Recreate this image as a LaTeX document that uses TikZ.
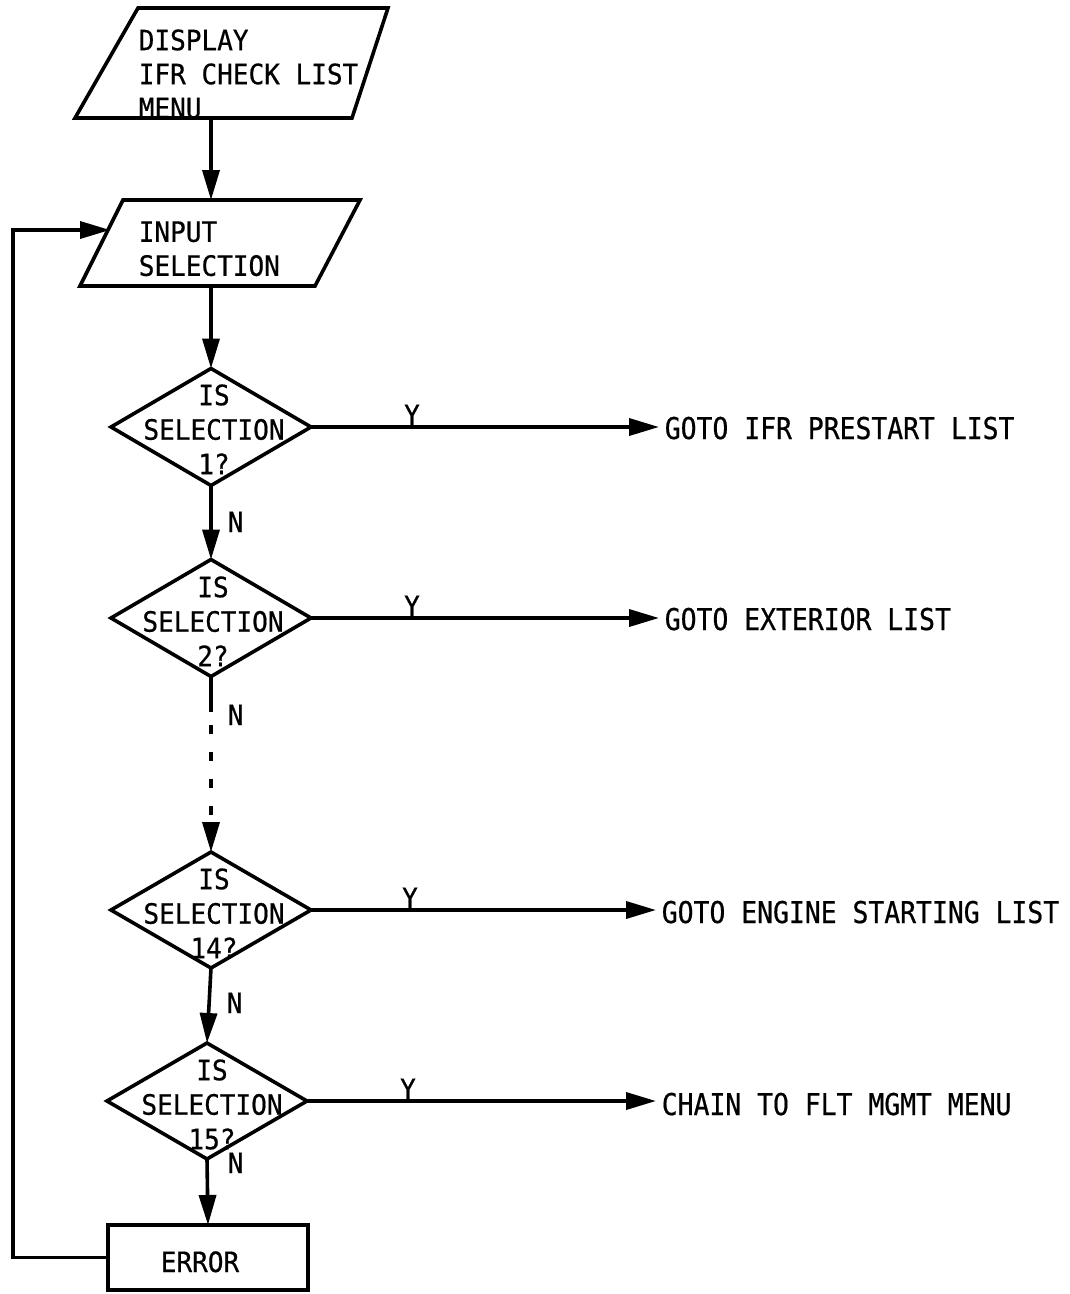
\documentclass[tikz,border=0pt]{standalone}
\usepackage{fontspec}
\usetikzlibrary{shapes.geometric,arrows.meta}
\newfontfamily\flowfont[FakeStretch=0.93,FakeBold=0.6]{DejaVu Sans Mono}
\newfontfamily\flowwide[FakeStretch=0.88,FakeBold=0.6]{DejaVu Sans Mono}
\begin{document}
\begin{tikzpicture}[x=1pt,y=-1pt,
  line width=3.6pt,
  flow/.style={line width=3.6pt,-{Triangle[length=30pt,width=17pt]}},
  boxtext/.style={font=\flowfont\fontsize{28}{34}\selectfont,inner sep=0pt,align=left,anchor=north west},
  dectext/.style={font=\flowfont\fontsize{28}{34.5}\selectfont,inner sep=0pt,align=center,anchor=north},
  decision/.style={draw,diamond,inner sep=0pt,outer sep=0pt,minimum width=200pt,minimum height=117pt},
  branch/.style={font=\flowwide\fontsize{30}{34}\selectfont,anchor=base west,inner sep=4pt},
  yn/.style={font=\flowfont\fontsize{28}{30}\selectfont,inner sep=0pt}]
\useasboundingbox (0,0) rectangle (1069,1294);

% input/output boxes
\draw (138,8) -- (388,8) -- (352,118) -- (75,118) -- cycle;
\node[boxtext] (show) at (137,27.6) {DISPLAY\\IFR CHECK LIST\\MENU};
\coordinate (p1s) at (211,118);

\draw (123,200) -- (360,200) -- (315,286) -- (80,286) -- cycle;
\node[boxtext] (inp) at (137,219.6) {INPUT\\SELECTION};
\coordinate (p2n) at (211,200);
\coordinate (p2s) at (211,286);
\coordinate (in) at (110,230);

% decisions
\node[decision] (d1) at (211,427) {};
\node[dectext] (t1) at (214,382.6) {IS\\SELECTION\\1?};
\node[decision] (d2) at (211,618) {};
\node[dectext] (t2) at (213,574.6) {IS\\SELECTION\\2?};
\node[decision,minimum height=116pt] (d3) at (211,910) {};
\node[dectext] (t3) at (214,866.6) {IS\\SELECTION\\14?};
\node[decision,minimum height=116pt] (d4) at (207,1101) {};
\node[dectext] (t4) at (212,1057.6) {IS\\SELECTION\\15?};

% error box
\node[draw,minimum width=200pt,minimum height=65pt,inner sep=0pt,outer sep=0pt] (err) at (208,1257.5) {};
\node[font=\flowfont\fontsize{28}{34}\selectfont,anchor=base,inner sep=0pt] (errt) at (200,1272) {ERROR};

% branch targets
\node[branch] (g1) at (659,439) {GOTO IFR PRESTART LIST};
\node[branch] (g2) at (659,630) {GOTO EXTERIOR LIST};
\node[branch] (g3) at (656,923) {GOTO ENGINE STARTING LIST};
\node[branch] (g4) at (656,1115) {CHAIN TO FLT MGMT MENU};

% main flow
\draw[flow] (p1s) -- (p2n);
\draw[flow] (p2s) -- (d1.north);
\draw[flow] (d1.south) -- (d2.north);
\coordinate (dashstart) at (211,712);
\draw (d2.south) -- (dashstart);
\draw[flow,dash pattern=on 9pt off 18pt,dash phase=14pt] (dashstart) -- (d3.north);
\draw[flow] (d3.south) -- (d4.north);
\draw[flow] (d4.south) -- (err.north);

% yes branches
\draw[flow] (d1.east) -- (d1.east -| g1.west);
\draw[flow] (d2.east) -- (d2.east -| g2.west);
\draw[flow] (d3.east) -- (d3.east -| g3.west);
\draw[flow] (d4.east) -- (d4.east -| g4.west);

% return loop
\coordinate (loop) at (13,230);
\draw[flow] (err.west) -| (loop) -- (in);

% labels
\node[yn,anchor=base] (y1) at (412,425) {Y};
\node[yn,anchor=base] (y2) at (412,616) {Y};
\node[yn,anchor=base] (y3) at (410,908) {Y};
\node[yn,anchor=base] (y4) at (408,1099) {Y};
\node[yn,anchor=base west] (n1) at (226,532) {N};
\node[yn,anchor=base west] (n2) at (226,725) {N};
\node[yn,anchor=base west] (n3) at (225,1013) {N};
\node[yn,anchor=base west] (n4) at (226,1173) {N};
\end{tikzpicture}
\end{document}
